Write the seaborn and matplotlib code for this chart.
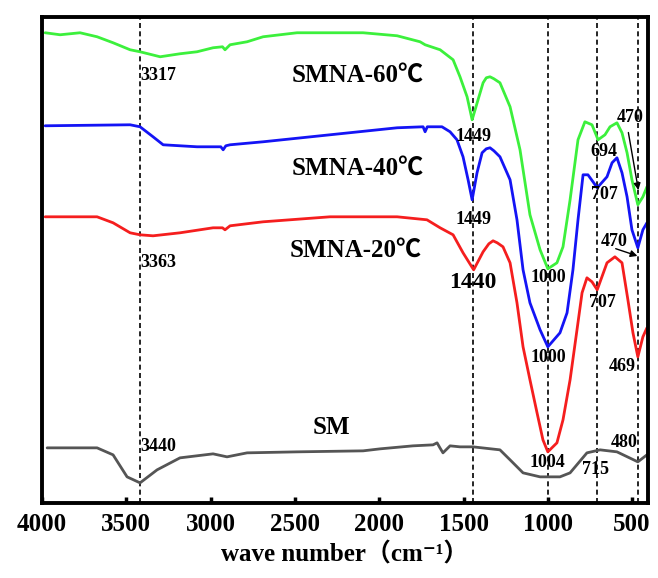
import matplotlib
matplotlib.use("Agg")
import pandas as pd
import seaborn as sns
import matplotlib.pyplot as plt

# FTIR spectra, transmittance in arbitrary units (curves are stacked/offset)
wave_60 = [3982, 3893, 3775, 3674, 3579, 3478, 3419, 3300, 3182, 3081, 2986, 2930, 2915, 2885, 2784, 2689,
           2488, 2096, 1894, 1758, 1728, 1639, 1562, 1521, 1479, 1449, 1414, 1384, 1365, 1343, 1320, 1284,
           1224, 1165, 1106, 1046, 1000, 946, 910, 868, 821, 780, 738, 702, 661, 631, 590, 560, 530, 501,
           466, 436, 412]
trans_60 = [470, 468, 470, 466, 460, 453, 451, 446, 449, 451, 455, 456, 453, 458, 461, 466,
            470, 470, 467, 461, 458, 453, 443, 426, 406, 383, 403, 420, 425, 426, 424, 420,
            396, 353, 288, 253, 234, 240, 256, 303, 363, 381, 378, 363, 368, 376, 380, 370, 350, 323,
            298, 306, 316]

wave_40 = [3982, 3478, 3419, 3342, 3282, 3081, 2940, 2926, 2910, 2885, 2689, 2292, 1894, 1740, 1728, 1715,
           1628, 1580, 1539, 1503, 1473, 1449, 1420, 1390, 1365, 1343, 1320, 1284, 1224, 1183, 1147, 1106,
           1046, 1000, 928, 886, 851, 821, 791, 762, 732, 707, 649, 619, 590, 560, 530, 501, 466, 436, 412]
trans_40 = [377, 378, 376, 366, 358, 356, 356, 353, 357, 358, 361, 368, 375, 376, 371, 376,
            376, 371, 363, 346, 323, 303, 330, 350, 354, 355, 352, 346, 323, 283, 233, 200,
            173, 156, 170, 190, 233, 283, 328, 328, 321, 315, 326, 340, 345, 330, 306, 273, 255, 273, 280]

wave_20 = [3982, 3674, 3579, 3478, 3419, 3342, 3182, 2986, 2930, 2915, 2885, 2689, 2292, 1894, 1717, 1639,
           1562, 1503, 1440, 1384, 1350, 1325, 1300, 1266, 1224, 1183, 1147, 1106, 1064, 1029, 1000, 946,
           910, 868, 827, 797, 768, 738, 707, 649, 602, 560, 525, 495, 466, 436, 412]
trans_20 = [286, 286, 280, 270, 268, 267, 270, 275, 275, 273, 277, 281, 286, 286, 283, 275,
            268, 250, 233, 251, 259, 262, 260, 256, 240, 200, 156, 123, 90, 63, 51, 60,
            83, 123, 173, 210, 225, 221, 213, 240, 246, 240, 203, 170, 146, 166, 175]

wave_sm = [3970, 3674, 3579, 3496, 3419, 3318, 3182, 2986, 2903, 2784, 2488, 2096, 1995, 1800, 1681, 1657,
           1640, 1622, 1580, 1521, 1444, 1284, 1224, 1147, 1046, 928, 868, 768, 690, 590, 466, 412]
trans_sm = [55, 55, 48, 26, 20, 33, 45, 49, 46, 50, 51, 52, 54, 57, 58, 60,
            55, 50, 57, 56, 56, 53, 43, 30, 26, 26, 30, 50, 53, 51, 41, 48]

peak_lines = [3420, 1445, 1000, 708, 468]
xticks = [4000, 3500, 3000, 2500, 2000, 1500, 1000, 500]

# (text, wavenumber, y, size, alignment)
peak_labels = [
    ("3317", 3419, 427, 13, "left"), ("3363", 3419, 240, 13, "left"), ("3440", 3419, 56, 13, "left"),
    ("1449", 1438, 366, 13, "center"), ("1449", 1438, 283, 13, "center"), ("1440", 1444, 220, 17, "center"),
    ("1000", 1000, 225, 13, "center"), ("1000", 1000, 145, 13, "center"), ("1004", 1000, 40, 13, "center"),
    ("694", 667, 351, 13, "center"), ("707", 667, 308, 13, "center"), ("707", 679, 200, 13, "center"),
    ("470", 513, 385, 13, "center"), ("470", 607, 261, 13, "center"), ("469", 560, 136, 13, "center"),
    ("480", 548, 60, 13, "center"), ("715", 720, 33, 13, "center"),
]
series_labels = [("SMNA-60℃", 2517, 427), ("SMNA-40℃", 2517, 335), ("SMNA-20℃", 2529, 253), ("SM", 2393, 75)]

sns.set_style("ticks")
plt.rcParams["font.family"] = ["Liberation Serif", "Noto Sans CJK SC", "DejaVu Serif"]
plt.rcParams["font.weight"] = "bold"
plt.rcParams["text.color"] = "black"
plt.rcParams["xtick.color"] = "black"
plt.rcParams["axes.labelcolor"] = "black"

frames = []
for name, w, t in [("SMNA-60", wave_60, trans_60), ("SMNA-40", wave_40, trans_40),
                   ("SMNA-20", wave_20, trans_20), ("SM", wave_sm, trans_sm)]:
    frames.append(pd.DataFrame({"wave": w, "T": t, "sample": name}))
df = pd.concat(frames, ignore_index=True)
palette = {"SMNA-60": "#3cf03c", "SMNA-40": "#1414f5", "SMNA-20": "#f51e1e", "SM": "#555555"}

fig, ax = plt.subplots(figsize=(6.58, 5.78), dpi=100)
fig.subplots_adjust(left=0.064, right=0.985, bottom=0.13, top=0.971)

for w in peak_lines:
    ax.axvline(w, color="black", lw=1.2, ls=(0, (3, 2)), zorder=1)

sns.lineplot(data=df, x="wave", y="T", hue="sample", palette=palette, sort=False,
             estimator=None, linewidth=2, legend=False, ax=ax, zorder=2)

for txt, x, y, size, ha in peak_labels:
    ax.text(x, y, txt, fontsize=size, fontweight="bold", ha=ha, va="center", zorder=3)
for txt, x, y in series_labels:
    ax.text(x, y, txt, fontsize=18, fontweight="bold", ha="left", va="center", zorder=3)

ax.annotate("", xy=(460, 310), xytext=(525, 373),
            arrowprops=dict(arrowstyle="-|>", color="black", lw=1, mutation_scale=10))
ax.annotate("", xy=(453, 246), xytext=(613, 255),
            arrowprops=dict(arrowstyle="-|>", color="black", lw=1, mutation_scale=10))

ax.set_xlim(4000, 405)
ax.set_ylim(0, 486)
ax.set_yticks([])
ax.set_xticks(xticks)
ax.set_xticklabels([str(v) for v in xticks], fontsize=18, fontweight="bold")
ax.tick_params(axis="x", direction="in", length=4, width=2.5, pad=7, color="black")
for sp in ax.spines.values():
    sp.set_visible(True)
    sp.set_linewidth(2.8)
    sp.set_color("black")
ax.set_ylabel("")
ax.set_xlabel("wave number（cm⁻¹）", fontsize=18, fontweight="bold", labelpad=5)

fig.savefig("out.png", dpi=100)
